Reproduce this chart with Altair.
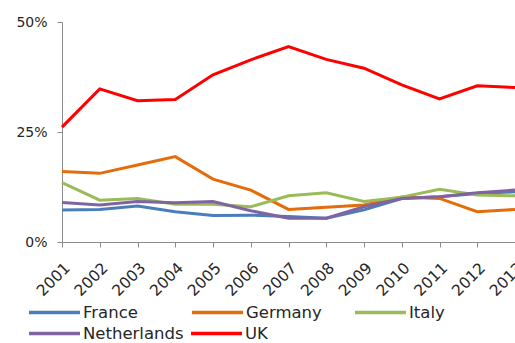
import altair as alt
import pandas as pd

years = [str(y) for y in range(2001, 2014)]
countries = ["France", "Germany", "Italy", "Netherlands", "UK"]
colors = ["#4A7EBB", "#E46C0A", "#9BBB59", "#8064A2", "#FF0000"]

france = [7.3, 7.4, 8.2, 6.9, 6.0, 6.1, 5.8, 5.4, 7.3, 9.9, 10.3, 11.0, 11.4]
germany = [16.0, 15.6, 17.5, 19.4, 14.3, 11.8, 7.4, 7.9, 8.4, 10.2, 9.9, 6.9, 7.4]
italy = [13.5, 9.5, 9.9, 8.6, 8.6, 8.0, 10.5, 11.2, 9.2, 10.2, 12.0, 10.7, 10.5]
netherlands = [9.0, 8.4, 9.2, 8.9, 9.2, 7.1, 5.4, 5.4, 8.0, 9.9, 10.3, 11.2, 11.8]
uk = [26.1, 34.8, 32.1, 32.4, 38.0, 41.4, 44.4, 41.5, 39.5, 35.7, 32.5, 35.5, 35.1]

series = dict(zip(countries, [france, germany, italy, netherlands, uk]))
rows = []
for name, vals in series.items():
    for yr, v in zip(years, vals):
        rows.append({"Year": yr, "Country": name, "Share": v / 100})
df = pd.DataFrame(rows)

font = "DejaVu Sans"
text_color = "#262626"
axis_color = "#8c8c8c"

x_enc = alt.X(
    "Year:O",
    scale=alt.Scale(padding=0),
    axis=alt.Axis(
        title=None,
        labelAngle=-45,
        labelFontSize=15.5,
        labelFont=font,
        labelColor=text_color,
        labelPadding=13,
        tickSize=5,
        tickColor=axis_color,
        domainColor=axis_color,
        grid=False,
    ),
)
y_enc = alt.Y(
    "Share:Q",
    scale=alt.Scale(domain=[0, 0.5]),
    axis=alt.Axis(
        title=None,
        values=[0, 0.25, 0.5],
        format=".0%",
        labelFontSize=14,
        labelFont=font,
        labelColor=text_color,
        labelPadding=10,
        tickSize=5,
        tickColor=axis_color,
        domainColor=axis_color,
        grid=False,
    ),
)


def legend(y, pad):
    return alt.Legend(
        title=None,
        orient="none",
        legendX=-35,
        legendY=y,
        direction="horizontal",
        columns=3,
        gridAlign="all",
        columnPadding=pad,
        symbolType="stroke",
        symbolSize=2600,
        symbolStrokeWidth=3.5,
        labelFontSize=16.5,
        labelFont=font,
        labelColor=text_color,
        labelOffset=1,
    )


def series_layer(names, palette, y, pad):
    return (
        alt.Chart(df)
        .transform_filter(alt.FieldOneOfPredicate(field="Country", oneOf=names))
        .mark_line(strokeWidth=3)
        .encode(
            x=x_enc,
            y=y_enc,
            color=alt.Color(
                "Country:N",
                scale=alt.Scale(domain=names, range=palette),
                legend=legend(y, pad),
            ),
        )
    )


# two legend rows: first three countries, then the remaining two
row1 = series_layer(countries[:3], colors[:3], 263, 26)
row2 = series_layer(countries[3:], colors[3:], 284, 0)

chart = (
    alt.layer(row1, row2)
    .resolve_scale(color="independent")
    .properties(
        width=453,
        height=220,
        autosize=alt.AutoSizeParams(type="none"),
        padding={"left": 62, "top": 22, "right": 0, "bottom": 101},
    )
    .configure_view(stroke=None)
)

chart.save("out.html", embed_options={"renderer": "svg", "actions": False})
